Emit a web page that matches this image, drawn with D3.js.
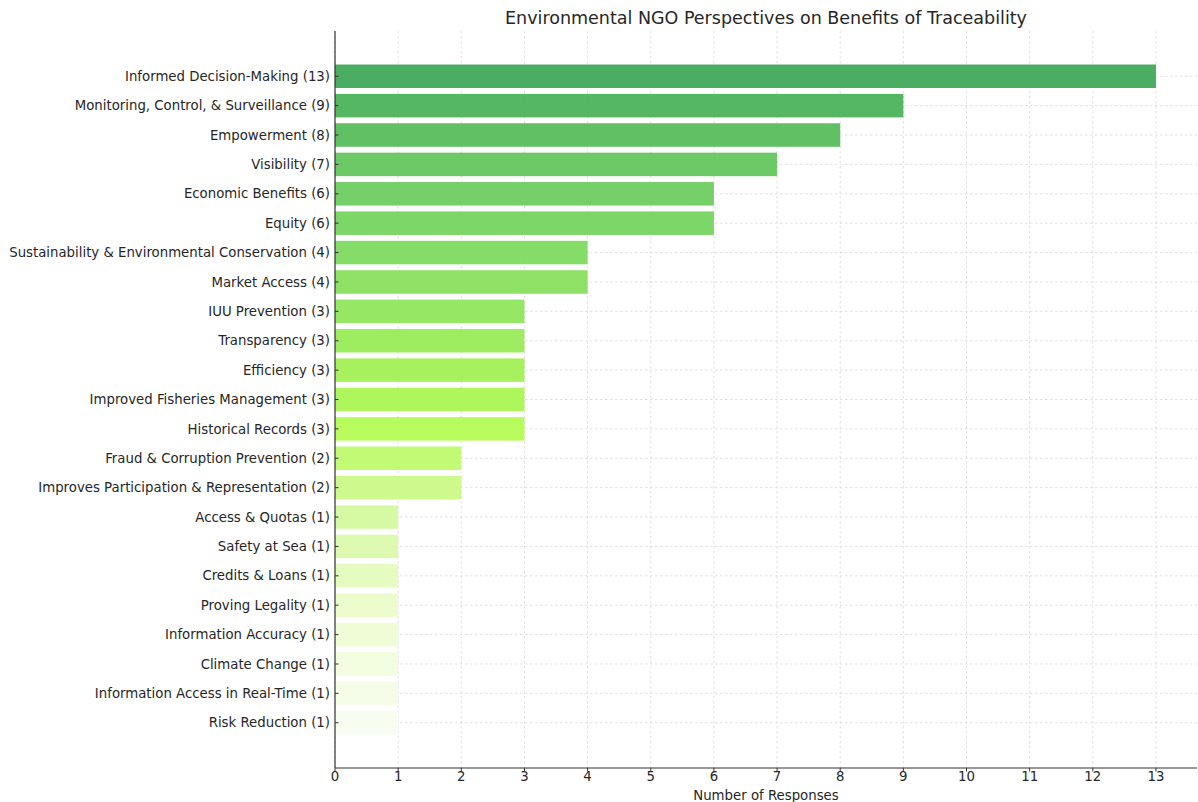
<!DOCTYPE html>
<html>
<head>
<meta charset="utf-8">
<script src="https://cdn.jsdelivr.net/npm/d3@7"></script>
<style>
  html, body { margin: 0; padding: 0; background: #fff; }
  svg { display: block; }
  text { font-family: "DejaVu Sans", sans-serif; fill: #262626; }
</style>
</head>
<body>
<svg id="chart" width="1198" height="802"></svg>
<script>
const categories = [
  "Informed Decision-Making (13)",
  "Monitoring, Control, & Surveillance (9)",
  "Empowerment (8)",
  "Visibility (7)",
  "Economic Benefits (6)",
  "Equity (6)",
  "Sustainability & Environmental Conservation (4)",
  "Market Access (4)",
  "IUU Prevention (3)",
  "Transparency (3)",
  "Efficiency (3)",
  "Improved Fisheries Management (3)",
  "Historical Records (3)",
  "Fraud & Corruption Prevention (2)",
  "Improves Participation & Representation (2)",
  "Access & Quotas (1)",
  "Safety at Sea (1)",
  "Credits & Loans (1)",
  "Proving Legality (1)",
  "Information Accuracy (1)",
  "Climate Change (1)",
  "Information Access in Real-Time (1)",
  "Risk Reduction (1)"
];
const values = [13, 9, 8, 7, 6, 6, 4, 4, 3, 3, 3, 3, 3, 2, 2, 1, 1, 1, 1, 1, 1, 1, 1];
const xTicks = [0,1,2,3,4,5,6,7,8,9,10,11,12,13];
const title = "Environmental NGO Perspectives on Benefits of Traceability";
const xLabel = "Number of Responses";

const svg = d3.select("#chart");
const m = { left: 335, right: 1197, top: 31, bottom: 768 };
const n = categories.length;

const x = d3.scaleLinear().domain([0, 13.65]).range([m.left, m.right]);
const y = d3.scaleLinear().domain([-1.54, n - 1 + 1.54]).range([m.top, m.bottom]);
const barH = Math.abs(y(0.8) - y(0));

const alpha = 0.93;
const colorStops = d3.scaleLinear()
  .domain([0, 3, 6, 9, 12, 15, 18, 22])
  .range(["#4aad61", "#6cc966", "#86dc68", "#9eec60", "#b8fb5c", "#d6f9a4", "#edfccc", "#f8fdf1"])
  .interpolate(d3.interpolateRgb);
function underColor(i) {
  const t = d3.rgb(colorStops(i));
  const f = v => Math.max(0, Math.min(255, (v - (1 - alpha) * 255) / alpha));
  return d3.rgb(f(t.r), f(t.g), f(t.b)).formatHex();
}

// grid
const grid = svg.append("g");
grid.selectAll("line.v").data(xTicks).join("line")
  .attr("x1", d => x(d)).attr("x2", d => x(d))
  .attr("y1", m.top).attr("y2", m.bottom)
  .attr("stroke", "#d8d8d8").attr("stroke-width", 0.8).attr("stroke-dasharray", "2.5,2.5");
grid.selectAll("line.h").data(d3.range(n)).join("line")
  .attr("x1", m.left).attr("x2", m.right)
  .attr("y1", d => y(d)).attr("y2", d => y(d))
  .attr("stroke", "#d8d8d8").attr("stroke-width", 0.8).attr("stroke-dasharray", "2.5,2.5");

// bars
svg.append("g").selectAll("rect").data(values).join("rect")
  .attr("x", x(0))
  .attr("y", (d, i) => y(i) - barH / 2)
  .attr("width", d => x(d) - x(0))
  .attr("height", barH)
  .attr("fill", (d, i) => underColor(i))
  .attr("fill-opacity", alpha);

// y labels
const yl = svg.append("g");
yl.selectAll("text").data(categories).join("text")
  .attr("x", m.left - 5)
  .attr("y", (d, i) => y(i))
  .attr("dy", "0.35em")
  .attr("text-anchor", "end")
  .attr("font-size", 13.3)
  .text(d => d);
yl.selectAll("line").data(d3.range(n)).join("line")
  .attr("x1", m.left).attr("x2", m.left + 3.5)
  .attr("y1", d => y(d)).attr("y2", d => y(d))
  .attr("stroke", "#333").attr("stroke-width", 1);

// x axis
const xa = svg.append("g");
xa.selectAll("line").data(xTicks).join("line")
  .attr("x1", d => x(d)).attr("x2", d => x(d))
  .attr("y1", m.bottom).attr("y2", m.bottom + 3.5)
  .attr("stroke", "#333").attr("stroke-width", 1);
xa.selectAll("text").data(xTicks).join("text")
  .attr("x", d => x(d)).attr("y", m.bottom + 13)
  .attr("text-anchor", "middle").attr("font-size", 13.3)
  .text(d => d);

// spines
svg.append("line").attr("x1", m.left).attr("x2", m.left).attr("y1", m.top).attr("y2", m.bottom)
  .attr("stroke", "#333").attr("stroke-width", 1.2);
svg.append("line").attr("x1", m.left).attr("x2", m.right).attr("y1", m.bottom).attr("y2", m.bottom)
  .attr("stroke", "#333").attr("stroke-width", 1.2);

const cx = (m.left + m.right) / 2;
svg.append("text").attr("x", cx).attr("y", 24).attr("text-anchor", "middle")
  .attr("font-size", 17.5)
  .text(title);
svg.append("text").attr("x", cx).attr("y", 800).attr("text-anchor", "middle")
  .attr("font-size", 13.3)
  .text(xLabel);
</script>
</body>
</html>
